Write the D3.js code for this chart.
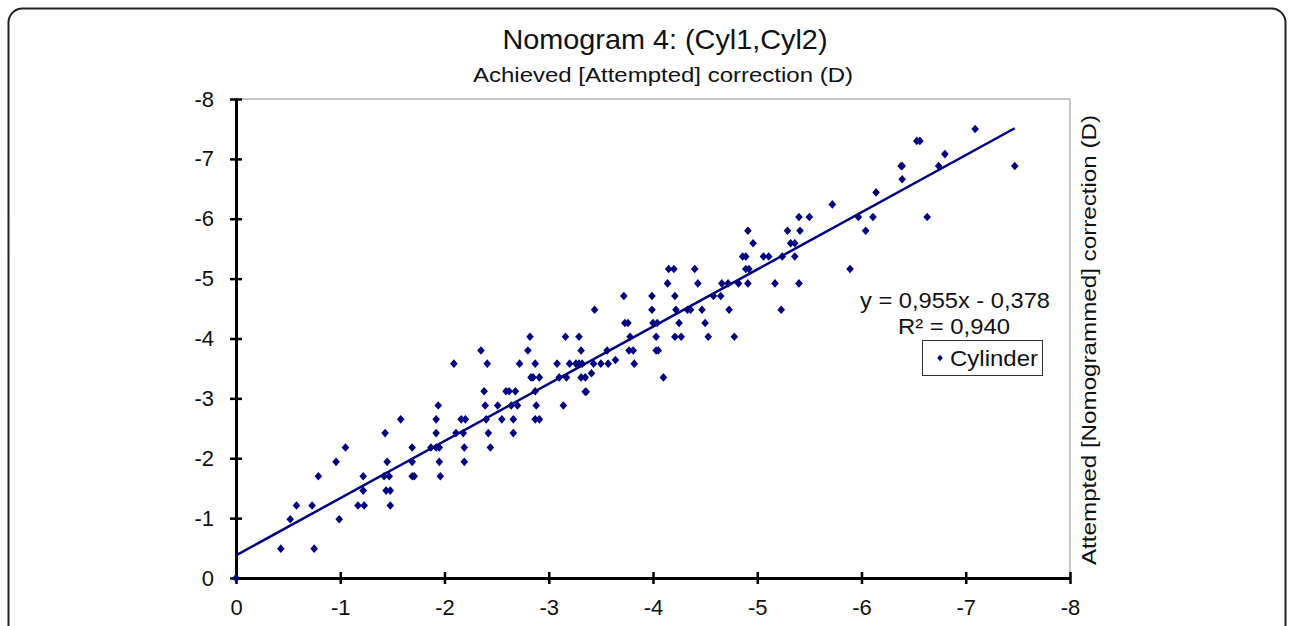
<!DOCTYPE html>
<html>
<head>
<meta charset="utf-8">
<script src="https://cdn.jsdelivr.net/npm/d3@7"></script>
<style>
  body { margin: 0; background: #fff; }
  text { font-family: "Liberation Sans", Arial, sans-serif; fill: #111; }
</style>
</head>
<body>
<div id="chart"></div>
<script>
// achieved vs attempted cylinder correction (D)
const cylinderPoints = [
    [0, 0],
    [-0.43, -0.49], [-0.75, -0.49],
    [-0.52, -0.98], [-0.99, -0.98],
    [-0.58, -1.21], [-0.73, -1.21], [-1.17, -1.21], [-1.23, -1.21], [-1.48, -1.21],
    [-1.22, -1.46], [-1.44, -1.46], [-1.48, -1.46],
    [-0.79, -1.70], [-1.22, -1.70], [-1.42, -1.70], [-1.47, -1.70], [-1.69, -1.70], [-1.71, -1.70], [-1.96, -1.70],
    [-0.96, -1.94], [-1.45, -1.94], [-1.69, -1.94], [-1.95, -1.94], [-2.19, -1.94],
    [-1.05, -2.18], [-1.69, -2.18], [-1.87, -2.18], [-1.92, -2.18], [-1.95, -2.18], [-2.19, -2.18], [-2.44, -2.18],
    [-1.43, -2.42], [-1.92, -2.42], [-2.11, -2.42], [-2.18, -2.42], [-2.42, -2.42], [-2.66, -2.42],
    [-1.58, -2.65], [-1.92, -2.65], [-2.16, -2.65], [-2.20, -2.65], [-2.40, -2.65], [-2.55, -2.65], [-2.66, -2.65], [-2.87, -2.65], [-2.91, -2.65],
    [-1.94, -2.88], [-2.39, -2.88], [-2.51, -2.88], [-2.64, -2.88], [-2.70, -2.88], [-2.88, -2.88], [-3.14, -2.88],
    [-2.38, -3.12], [-2.59, -3.12], [-2.62, -3.12], [-2.68, -3.12], [-2.87, -3.12], [-3.35, -3.11], [-3.36, -3.11],
    [-2.83, -3.35], [-2.85, -3.35], [-2.91, -3.35], [-3.10, -3.35], [-3.17, -3.35], [-3.31, -3.35], [-3.35, -3.35], [-4.10, -3.35],
    [-3.41, -3.42],
    [-2.09, -3.58], [-2.41, -3.58], [-2.72, -3.58], [-2.87, -3.58], [-3.08, -3.58], [-3.20, -3.58], [-3.26, -3.58],
    [-3.29, -3.58], [-3.32, -3.58], [-3.43, -3.58], [-3.50, -3.58], [-3.57, -3.58], [-3.82, -3.58],
    [-3.64, -3.64],
    [-2.35, -3.80], [-2.80, -3.80], [-3.31, -3.80], [-3.56, -3.80], [-3.77, -3.80], [-3.81, -3.80], [-4.03, -3.80], [-4.05, -3.80],
    [-2.82, -4.03], [-3.16, -4.03], [-3.29, -4.03], [-3.78, -4.03], [-4.03, -4.03], [-4.21, -4.03], [-4.27, -4.03], [-4.53, -4.03], [-4.78, -4.03],
    [-3.73, -4.26], [-3.76, -4.26], [-4.00, -4.26], [-4.04, -4.26], [-4.25, -4.26], [-4.50, -4.26],
    [-3.44, -4.48], [-3.99, -4.48], [-4.22, -4.48], [-4.33, -4.48], [-4.36, -4.48], [-4.47, -4.48], [-4.73, -4.48], [-5.23, -4.48],
    [-3.72, -4.71], [-3.99, -4.71], [-4.21, -4.71], [-4.58, -4.71], [-4.65, -4.71],
    [-4.14, -4.92], [-4.43, -4.92], [-4.66, -4.92], [-4.72, -4.92], [-4.82, -4.92], [-4.91, -4.92], [-5.17, -4.92], [-5.40, -4.92],
    [-4.15, -5.16], [-4.20, -5.16], [-4.40, -5.16], [-4.89, -5.16], [-4.92, -5.16], [-5.89, -5.16],
    [-4.86, -5.37], [-4.89, -5.37], [-5.06, -5.37], [-5.11, -5.37], [-5.24, -5.37], [-5.36, -5.37],
    [-4.96, -5.59], [-5.32, -5.59], [-5.36, -5.59],
    [-4.91, -5.80], [-5.29, -5.80], [-5.41, -5.80], [-6.04, -5.80],
    [-5.40, -6.03], [-5.50, -6.03], [-5.97, -6.03], [-6.11, -6.03], [-6.63, -6.03],
    [-5.72, -6.24],
    [-6.14, -6.44],
    [-6.39, -6.66],
    [-6.38, -6.88], [-6.39, -6.88], [-6.74, -6.88], [-7.47, -6.88],
    [-6.80, -7.08],
    [-6.53, -7.30], [-6.56, -7.30],
    [-7.09, -7.50]
];

// linear trend shown on the chart
const trendSlope = 0.955;
const trendIntercept = -0.378;
const trendLabel = "y = 0,955x - 0,378";
const r2Label = "R² = 0,940";
const seriesName = "Cylinder";

const xTicks = [0, -1, -2, -3, -4, -5, -6, -7, -8];
const yTicks = [0, -1, -2, -3, -4, -5, -6, -7, -8];

const width = 1292, height = 626;
const plot = {left: 236, right: 1070, top: 99, bottom: 578};
const navy = "#000080";

let svg = d3.select("#chart").append("svg")
    .attr("width", width)
    .attr("height", height);

// outer rounded frame (bottom edge falls outside the picture)
svg.append("rect")
    .attr("x", 8.5).attr("y", 8.5)
    .attr("width", 1277).attr("height", 700)
    .attr("rx", 14).attr("ry", 14)
    .attr("fill", "none")
    .attr("stroke", "#222")
    .attr("stroke-width", 2);

let x = d3.scaleLinear().domain([0, -8]).range([plot.left, plot.right]);
let y = d3.scaleLinear().domain([0, -8]).range([plot.bottom, plot.top]);

// plot area frame, top and right
svg.append("path")
    .attr("d", `M${plot.left},${plot.top}H${plot.right}V${plot.bottom}`)
    .attr("fill", "none")
    .attr("stroke", "#8c8c8c")
    .attr("stroke-width", 1);

// titles
svg.append("text")
    .attr("x", 665).attr("y", 49)
    .attr("text-anchor", "middle")
    .attr("font-size", 28)
    .attr("textLength", 325).attr("lengthAdjust", "spacingAndGlyphs")
    .text("Nomogram 4: (Cyl1,Cyl2)");

svg.append("text")
    .attr("x", 663).attr("y", 82)
    .attr("text-anchor", "middle")
    .attr("font-size", 20)
    .attr("textLength", 380).attr("lengthAdjust", "spacingAndGlyphs")
    .text("Achieved [Attempted] correction (D)");

svg.append("text")
    .attr("transform", "translate(1096,340) rotate(-90)")
    .attr("text-anchor", "middle")
    .attr("font-size", 21)
    .attr("textLength", 450).attr("lengthAdjust", "spacingAndGlyphs")
    .text("Attempted [Nomogrammed] correction (D)");

// axes
let yAxis = d3.axisLeft(y)
    .tickValues(yTicks)
    .tickFormat(d => d.toString())
    .tickSizeInner(6).tickSizeOuter(0)
    .tickPadding(16);

let xAxis = d3.axisBottom(x)
    .tickValues(xTicks)
    .tickFormat(d => d.toString())
    .tickSizeInner(6).tickSizeOuter(0)
    .tickPadding(15);

let yAxisGroup = svg.append("g")
    .attr("transform", `translate(${plot.left},0)`)
    .call(yAxis);
yAxisGroup.selectAll(".tick line").attr("x1", -6).attr("x2", 6);

let xAxisGroup = svg.append("g")
    .attr("transform", `translate(0,${plot.bottom})`)
    .call(xAxis);
xAxisGroup.selectAll(".tick line").attr("y1", -6).attr("y2", 6);

[yAxisGroup, xAxisGroup].forEach(g => {
    g.select(".domain").attr("stroke", "#000").attr("stroke-width", 3);
    g.selectAll(".tick line").attr("stroke", "#000").attr("stroke-width", 2.5);
    g.selectAll(".tick text")
        .attr("font-family", "Liberation Sans, Arial, sans-serif")
        .attr("font-size", 22)
        .attr("fill", "#111");
});

// trend line over the range of the data
let xExtent = d3.extent(cylinderPoints, d => d[0]);
svg.append("line")
    .attr("x1", x(xExtent[1])).attr("y1", y(trendSlope * xExtent[1] + trendIntercept))
    .attr("x2", x(xExtent[0])).attr("y2", y(trendSlope * xExtent[0] + trendIntercept))
    .attr("stroke", navy)
    .attr("stroke-width", 2.5);

// diamond markers
const diamond = "M0,-4.3L3.8,0L0,4.3L-3.8,0Z";
svg.append("g")
    .selectAll("path")
    .data(cylinderPoints)
    .enter().append("path")
    .attr("d", diamond)
    .attr("transform", d => `translate(${x(d[0])},${y(d[1])})`)
    .attr("fill", navy);

// equation
svg.append("text")
    .attr("x", 955).attr("y", 308)
    .attr("text-anchor", "middle")
    .attr("font-size", 22)
    .attr("textLength", 190).attr("lengthAdjust", "spacingAndGlyphs")
    .text(trendLabel);

svg.append("text")
    .attr("x", 954).attr("y", 334)
    .attr("text-anchor", "middle")
    .attr("font-size", 22)
    .attr("textLength", 112).attr("lengthAdjust", "spacingAndGlyphs")
    .text(r2Label);

// legend
let legend = svg.append("g").attr("class", "legend");
legend.append("rect")
    .attr("x", 922.5).attr("y", 340.5)
    .attr("width", 120).attr("height", 35)
    .attr("fill", "#fff")
    .attr("stroke", "#333")
    .attr("stroke-width", 1);
legend.append("path")
    .attr("d", "M0,-3.2L2.8,0L0,3.2L-2.8,0Z")
    .attr("transform", "translate(940,358)")
    .attr("fill", navy);
legend.append("text")
    .attr("x", 950).attr("y", 366)
    .attr("font-size", 22)
    .attr("textLength", 88).attr("lengthAdjust", "spacingAndGlyphs")
    .text(seriesName);
</script>
</body>
</html>
